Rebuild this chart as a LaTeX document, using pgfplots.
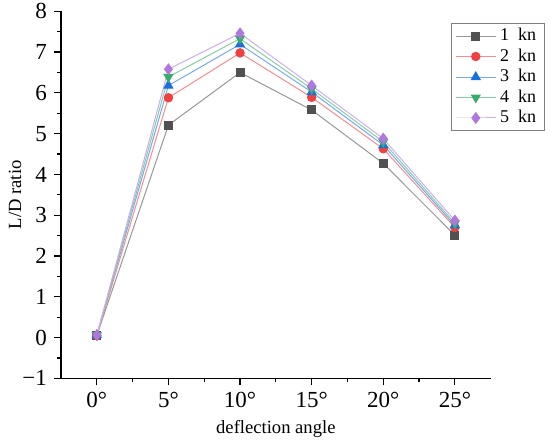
\documentclass[border=0pt]{standalone}
\usepackage{fontspec}
\setmainfont{Liberation Serif}
\usepackage{pgfplots}
\pgfplotsset{compat=1.18}
\definecolor{c1}{HTML}{515151}
\definecolor{c2}{HTML}{F14040}
\definecolor{c3}{HTML}{1A6FDF}
\definecolor{c4}{HTML}{37AD6B}
\definecolor{c5}{HTML}{B177DE}
\begin{document}
\begin{tikzpicture}
\path[use as bounding box] (-30.5pt,-32.35pt) rectangle (244.45pt,189.15pt);
\begin{axis}[
 at={(0,0)}, anchor=south west,
 scale only axis, width=214.8pt, height=183.5pt,
 xmin=-2.5, xmax=27.5, ymin=-1, ymax=8,
 axis x line*=bottom, axis y line*=left,
 axis line style={-, line width=0.75pt},
 xtick={0,5,...,25}, xticklabels={0°,5°,10°,15°,20°,25°},
 ytick={-1,0,...,8}, yticklabels={−1,0,1,2,3,4,5,6,7,8},
 minor x tick num=1, minor y tick num=1,
 tick align=outside, major tick length=3.5pt, minor tick length=2pt,
 tick style={black, line width=0.6pt},
 ticklabel style={font=\fontsize{11.5}{13}\selectfont},
 xlabel={deflection angle}, ylabel={L/D ratio},
 label style={font=\fontsize{9.3}{11}\selectfont},
 xlabel style={at={(axis description cs:0.5,-0.138)}, anchor=center},
 ylabel style={at={(axis description cs:-0.107,0.5)}, anchor=center},
 legend style={at={(axis description cs:1.126,0.969)}, anchor=north east,
   draw=gray, line width=0.6pt, font=\fontsize{9}{11}\selectfont,
   row sep=-1.5pt, inner xsep=2pt, inner ysep=0.5pt},
 legend cell align=left,
 legend image code/.code={\draw[mark repeat=2,mark phase=2] plot coordinates {(0cm,0cm) (0.35cm,0cm) (0.7cm,0cm)};},
]
\addplot[color=c1!60, line width=0.5pt, mark=square*, mark options={fill=c1, draw=c1, mark size=2pt}]
 coordinates {(0,0.05)(5,5.21)(10,6.5)(15,5.58)(20,4.27)(25,2.51)};
\addlegendentry{1\ \ kn}
\addplot[color=c2!60, line width=0.5pt, mark=*, mark options={fill=c2, draw=c2, mark size=2.1pt}]
 coordinates {(0,0.05)(5,5.88)(10,6.98)(15,5.89)(20,4.63)(25,2.70)};
\addlegendentry{2\ \ kn}
\addplot[color=c3!60, line width=0.5pt, mark=triangle*, mark options={fill=c3, draw=c3, mark size=2.5pt}]
 coordinates {(0,0.06)(5,6.18)(10,7.19)(15,6.02)(20,4.72)(25,2.75)};
\addlegendentry{3\ \ kn}
\addplot[color=c4!60, line width=0.5pt, mark=triangle*, mark options={fill=c4, draw=c4, mark size=2.5pt, rotate=180}]
 coordinates {(0,0.06)(5,6.39)(10,7.33)(15,6.10)(20,4.80)(25,2.80)};
\addlegendentry{4\ \ kn}
\addplot[color=c5!60, line width=0.5pt, mark=diamond*, mark options={fill=c5, draw=c5, mark size=2.6pt}]
 coordinates {(0,0.06)(5,6.58)(10,7.46)(15,6.18)(20,4.88)(25,2.87)};
\addlegendentry{5\ \ kn}
\end{axis}
\end{tikzpicture}
\end{document}
